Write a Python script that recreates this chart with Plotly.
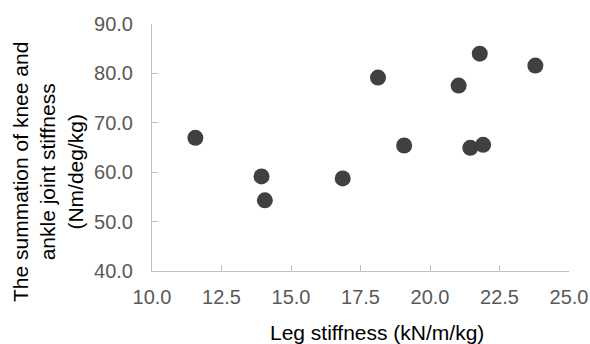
import plotly.graph_objects as go

leg_stiffness = [11.56, 13.94, 14.06, 16.86, 18.13, 19.07, 21.03, 21.45, 21.91, 21.79, 23.79]
joint_stiffness = [66.95, 59.14, 54.3, 58.74, 79.16, 65.41, 77.54, 64.93, 65.54, 84.0, 81.59]

x_ticks = [10.0, 12.5, 15.0, 17.5, 20.0, 22.5, 25.0]
y_ticks = [40.0, 50.0, 60.0, 70.0, 80.0, 90.0]

x_title = "Leg stiffness (kN/m/kg)"
y_title = "The summation of knee and<br>ankle joint stiffness<br>(Nm/deg/kg)"

FONT = "Liberation Sans, Arial, sans-serif"
W, H = 590, 344
L, R, T, B = 152, 21, 24, 73
PW, PH = W - L - R, H - T - B

fig = go.Figure()
fig.add_trace(go.Scatter(
    x=leg_stiffness, y=joint_stiffness, mode="markers",
    marker=dict(size=16, color="#404040", line=dict(width=0)),
    showlegend=False, hoverinfo="x+y", cliponaxis=False,
))

axis_common = dict(
    showgrid=False, zeroline=False, showline=True, linecolor="#bfbfbf", linewidth=1,
    ticks="inside", ticklen=6, tickcolor="#bfbfbf", tickwidth=1, automargin=False,
    tickfont=dict(family=FONT, size=20, color="#595959"),
)

fig.update_xaxes(range=[10, 25], tickvals=x_ticks, ticktext=[f"{v:.1f}" for v in x_ticks],
                 ticklabelstandoff=8, **axis_common)
fig.update_yaxes(range=[40, 90], tickvals=y_ticks, ticktext=[f"{v:.1f}" for v in y_ticks],
                 ticklabelstandoff=14, **axis_common)

py_bottom = T + PH
fig.add_annotation(text=x_title, xref="paper", yref="paper", x=(377 - L) / PW, y=-(332 - py_bottom) / PH,
                   showarrow=False, xanchor="center", yanchor="middle",
                   font=dict(family=FONT, size=21, color="#000000"))
fig.add_annotation(text=y_title, xref="paper", yref="paper", x=-(L - 48) / PW, y=(py_bottom - 172) / PH,
                   showarrow=False, xanchor="center", yanchor="middle", textangle=-90,
                   font=dict(family=FONT, size=21, color="#000000"))

fig.update_layout(
    width=W, height=H,
    margin=dict(l=L, r=R, t=T, b=B, autoexpand=False),
    plot_bgcolor="white", paper_bgcolor="white",
    font=dict(family=FONT),
)

fig.write_html(
    "out.html",
    config={"displayModeBar": False},
    post_script="document.body.style.margin='0';document.documentElement.style.overflow='hidden';document.body.style.overflow='hidden';",
)
